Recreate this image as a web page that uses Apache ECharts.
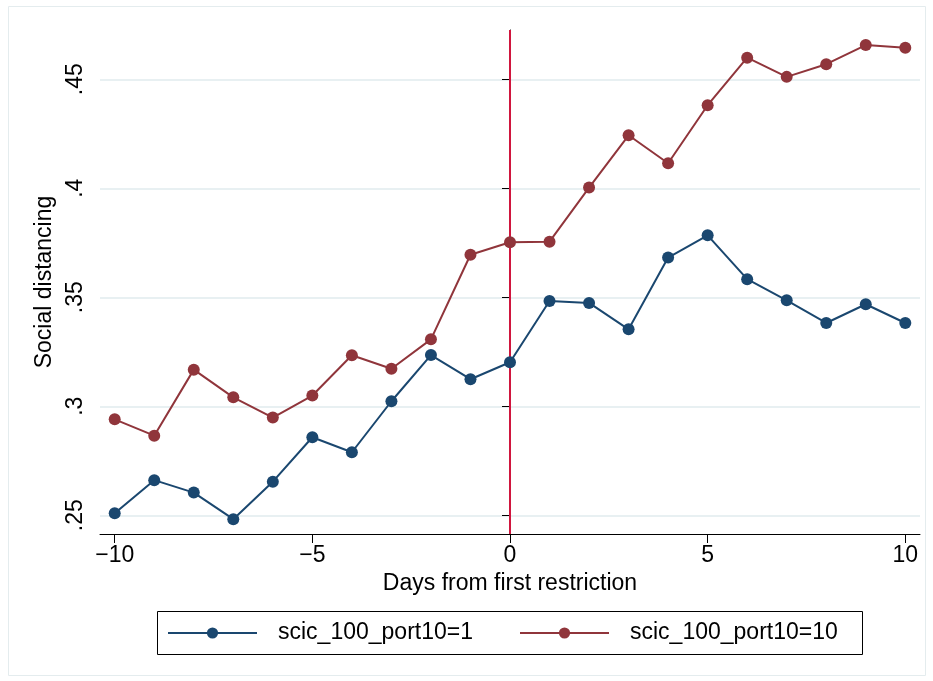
<!DOCTYPE html>
<html>
<head>
<meta charset="utf-8">
<script src="https://cdn.jsdelivr.net/npm/echarts@6/dist/echarts.min.js"></script>
<style>
html,body{margin:0;padding:0;background:#fff;}
#chart{width:933px;height:681px;}
</style>
</head>
<body>
<div id="chart"></div>
<script>
const days = [-10,-9,-8,-7,-6,-5,-4,-3,-2,-1,0,1,2,3,4,5,6,7,8,9,10];
const port1 = [0.2509,0.2661,0.2604,0.2482,0.2654,0.2858,0.2789,0.3023,0.3235,0.3124,0.3202,0.3483,0.3474,0.3353,0.3682,0.3784,0.3583,0.3486,0.3382,0.3468,0.3382];
const port10 = [0.2940,0.2865,0.3168,0.3041,0.2948,0.3049,0.3234,0.3172,0.3307,0.3695,0.3752,0.3755,0.4003,0.4243,0.4115,0.4381,0.4599,0.4511,0.4569,0.4657,0.4645];
const seriesNames = ['scic_100_port10=1','scic_100_port10=10'];
const xTickValues = [-10,-5,0,5,10];
const xTickLabels = ['\u221210','\u22125','0','5','10'];
const yTickValues = [0.25,0.30,0.35,0.40,0.45];
const yTickLabels = ['.25','.3','.35','.4','.45'];
const restrictionDay = 0;

const FONT = "'Liberation Sans', Arial, sans-serif";
const pairs = (ys) => days.map((d,i)=>[d, ys[i]]);
const labelFor = (vals, labels) => (v) => {
  for (let i=0;i<vals.length;i++) if (Math.abs(vals[i]-v) < 1e-9) return labels[i];
  return '';
};

const chart = echarts.init(document.getElementById('chart'), null, {renderer:'canvas'});
chart.setOption({
  animation:false,
  backgroundColor:'#ffffff',
  textStyle:{fontFamily:FONT},
  grid:{left:100,right:13,top:30,bottom:147,containLabel:false},
  xAxis:{
    type:'value', min:-10.372, max:10.372,
    name:'Days from first restriction', nameLocation:'middle', nameGap:37,
    nameTextStyle:{fontFamily:FONT,fontSize:23,color:'#000'},
    axisLine:{show:true,lineStyle:{color:'#000',width:1}},
    axisTick:{show:true,length:9,customValues:xTickValues,lineStyle:{color:'#000',width:1}},
    axisLabel:{customValues:xTickValues,formatter:labelFor(xTickValues,xTickLabels),fontFamily:FONT,fontSize:23,color:'#000',margin:10},
    splitLine:{show:false}
  },
  yAxis:{
    type:'value', min:0.2414, max:0.4726,
    name:'Social distancing', nameLocation:'middle', nameGap:35,
    nameTextStyle:{fontFamily:FONT,fontSize:23,color:'#000'},
    axisLine:{show:true,lineStyle:{color:'#000',width:1}},
    axisTick:{show:true,length:8,customValues:yTickValues,lineStyle:{color:'#000',width:1}},
    axisLabel:{customValues:yTickValues,rotate:90,formatter:labelFor(yTickValues,yTickLabels),fontFamily:FONT,fontSize:23,color:'#000',margin:13},
    splitLine:{show:true,lineStyle:{color:'#e8f0f2',width:2}}
  },
  legend:{
    left:167, top:621, padding:0, itemGap:46, itemWidth:89, itemHeight:14,
    textStyle:{fontFamily:FONT,fontSize:23,color:'#000',padding:[0,0,0,16],lineHeight:24},
    data:seriesNames
  },
  graphic:[
    {type:'rect',shape:{x:157.5,y:611.5,width:705,height:43},style:{fill:'none',stroke:'#000',lineWidth:1},silent:true},
    {type:'rect',shape:{x:8.5,y:6.5,width:917,height:669},style:{fill:'none',stroke:'#e4ecee',lineWidth:1},silent:true}
  ],
  series:[
    {
      name:seriesNames[0], type:'line', data:pairs(port1),
      symbol:'circle', symbolSize:12, showSymbol:true,
      itemStyle:{color:'#1a476f'}, lineStyle:{color:'#1a476f',width:2}, z:3,
      markLine:{
        silent:true, symbol:['none','none'], label:{show:false},
        lineStyle:{color:'#d0163e',width:2,type:'solid'},
        data:[{xAxis:restrictionDay}], z:2
      }
    },
    {
      name:seriesNames[1], type:'line', data:pairs(port10),
      symbol:'circle', symbolSize:12, showSymbol:true,
      itemStyle:{color:'#90353b'}, lineStyle:{color:'#90353b',width:2}, z:3
    }
  ]
});
</script>
</body>
</html>
